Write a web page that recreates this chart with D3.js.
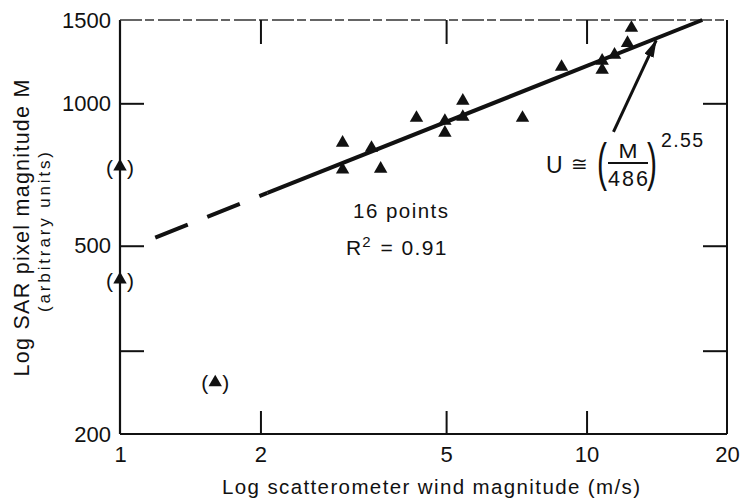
<!DOCTYPE html>
<html><head><meta charset="utf-8">
<script src="https://cdn.jsdelivr.net/npm/d3@7"></script>
<style>
body{margin:0;background:#fff}
svg{display:block;background:#fff}
text{font-family:"Liberation Sans",Arial,Helvetica,sans-serif;fill:#111}
</style>
</head><body>
<svg id="c" width="742" height="502"></svg>
<script>
// ---- data ----
const windU = [3.0, 3.0, 3.46, 3.62, 4.32, 4.97, 4.97, 5.43, 5.43, 7.29, 8.84, 10.8, 10.8, 11.48, 12.24, 12.48];
const sarM  = [825, 724, 805, 727, 931, 918, 866, 1012, 936, 931, 1194, 1230, 1176, 1266, 1341, 1443];
const outlierU = [1, 1, 1.6];
const outlierM = [735, 424, 257];
const fitCoef = 486;
const fitExp = 2.55;
const fitDashedU = [1.19, 2.07];
const arrowTailU = 11.42, arrowTailM = 870, arrowHeadU = 14.1;
const xTickLabels = [1, 2, 5, 10, 20];
const xInnerTicks = [2, 5, 10];
const yTickLabels = [200, 500, 1000, 1500];
const yInnerTicks = [300, 500, 1000];
const xTitle = "Log scatterometer wind magnitude (m/s)";
const yTitle1 = "Log SAR pixel magnitude M";
const yTitle2 = "(arbitrary units)";

// ---- scales ----
const svg = d3.select("#c");
const L = 120, R = 727, T = 20, B = 434;
const x = d3.scaleLog().domain([1, 20]).range([L, R]);
const y = d3.scaleLog().domain([200, 1500]).range([B, T]);
const fitM = u => fitCoef * Math.pow(u, 1 / fitExp);

// ---- frame ----
svg.append("line").attr("x1", L).attr("x2", L).attr("y1", T).attr("y2", B)
  .attr("stroke", "#111").attr("stroke-width", 2.2);
svg.append("line").attr("x1", L).attr("x2", R).attr("y1", B).attr("y2", B)
  .attr("stroke", "#111").attr("stroke-width", 2);
svg.append("line").attr("x1", R).attr("x2", R).attr("y1", T).attr("y2", B)
  .attr("stroke", "#111").attr("stroke-width", 2);
svg.append("line").attr("x1", L).attr("x2", R).attr("y1", T).attr("y2", T)
  .attr("stroke", "#333").attr("stroke-width", 1.3).attr("stroke-dasharray", "22,3,9,4");

function styleTicks(g) {
  g.select(".domain").remove();
  g.selectAll("line").attr("stroke", "#111").attr("stroke-width", 2);
}
// inner ticks
svg.append("g").attr("transform", `translate(${L},0)`)
  .call(d3.axisLeft(y).tickValues(yInnerTicks).tickSize(-24).tickFormat(() => "")).call(styleTicks);
svg.append("g").attr("transform", `translate(${R},0)`)
  .call(d3.axisRight(y).tickValues(yInnerTicks).tickSize(-24).tickFormat(() => "")).call(styleTicks);
svg.append("g").attr("transform", `translate(0,${B})`)
  .call(d3.axisBottom(x).tickValues(xInnerTicks).tickSize(-23).tickFormat(() => "")).call(styleTicks);
svg.append("g").attr("transform", `translate(0,${T})`)
  .call(d3.axisTop(x).tickValues(xInnerTicks).tickSize(-24).tickFormat(() => "")).call(styleTicks);

// tick labels
function styleLabels(g) {
  g.select(".domain").remove();
  g.selectAll("line").remove();
  g.attr("font-family", null).attr("font-size", null);
  g.selectAll("text").style("font-size", "22px").attr("fill", "#111");
}
svg.append("g").attr("transform", `translate(${L},0)`)
  .call(d3.axisLeft(y).tickValues(yTickLabels).tickSize(0).tickPadding(9).tickFormat(d3.format("d")))
  .call(styleLabels);
svg.append("g").attr("transform", `translate(0,${B})`)
  .call(d3.axisBottom(x).tickValues(xTickLabels).tickSize(0).tickPadding(12).tickFormat(d3.format("d")))
  .call(styleLabels);

// axis titles
svg.append("text").attr("x", 222).attr("y", 494).style("font-size", "20.5px")
  .attr("textLength", 418).attr("lengthAdjust", "spacing").text(xTitle);
svg.append("text").attr("transform", "translate(29,228) rotate(-90)").attr("text-anchor", "middle")
  .style("font-size", "21.5px").attr("textLength", 297).attr("lengthAdjust", "spacing").text(yTitle1);
svg.append("text").attr("transform", "translate(50,232) rotate(-90)").attr("text-anchor", "middle")
  .style("font-size", "17px").attr("textLength", 160).attr("lengthAdjust", "spacing").text(yTitle2);

// ---- fitted line ----
const line = d3.line().x(d => x(d)).y(d => y(fitM(d)));
const uTop = Math.pow(1500 / fitCoef, fitExp);
svg.append("path").datum(fitDashedU).attr("d", line)
  .attr("fill", "none").attr("stroke", "#111").attr("stroke-width", 4)
  .attr("stroke-dasharray", "35,21");
svg.append("path").datum([fitDashedU[1], uTop]).attr("d", line)
  .attr("fill", "none").attr("stroke", "#111").attr("stroke-width", 4);

// ---- points ----
const tri = d3.symbol().type(d3.symbolTriangle).size(78);
const pts = windU.map((u, i) => ({u, m: sarM[i]}));
svg.append("g").selectAll("path").data(pts).join("path")
  .attr("d", tri).attr("transform", d => `translate(${x(d.u)},${y(d.m)})`).attr("fill", "#111");

const outs = outlierU.map((u, i) => ({u, m: outlierM[i]}));
const og = svg.append("g").selectAll("g").data(outs).join("g")
  .attr("transform", d => `translate(${x(d.u)},${y(d.m)})`);
og.append("path").attr("d", tri).attr("fill", "#111");
og.append("text").attr("x", -14).attr("y", 8).style("font-size", "21px").text("(");
og.append("text").attr("x", 7).attr("y", 8).style("font-size", "21px").text(")");

// ---- R² annotation ----
svg.append("text").attr("x", 353).attr("y", 218).style("font-size", "20.5px")
  .attr("textLength", 95).attr("lengthAdjust", "spacing").text("16 points");
const r2 = svg.append("text").attr("x", 346).attr("y", 255).style("font-size", "21px");
r2.append("tspan").text("R");
r2.append("tspan").attr("dy", -8).attr("dx", 1).style("font-size", "15px").text("2");
r2.append("tspan").attr("dy", 8).attr("dx", 10).attr("textLength", 66).attr("lengthAdjust", "spacing").text("= 0.91");

// ---- arrow + formula ----
const defs = svg.append("defs");
defs.append("marker").attr("id", "ah").attr("markerUnits", "userSpaceOnUse")
  .attr("markerWidth", 18).attr("markerHeight", 10).attr("refX", 17).attr("refY", 5)
  .attr("orient", "auto").append("path").attr("d", "M0,0L18,5L0,10Z").attr("fill", "#111");
svg.append("line")
  .attr("x1", x(arrowTailU)).attr("y1", y(arrowTailM))
  .attr("x2", x(arrowHeadU)).attr("y2", y(fitM(arrowHeadU)) + 2)
  .attr("stroke", "#111").attr("stroke-width", 3).attr("marker-end", "url(#ah)");

svg.append("text").attr("x", 546).attr("y", 173).style("font-size", "23px").text("U");
svg.append("text").attr("x", 571).attr("y", 171).style("font-size", "20px")
  .style("font-family", "'DejaVu Sans',sans-serif").text("≅");
svg.append("text").attr("transform", "translate(597,180) scale(1,1.7)").style("font-size", "30px").text("(");
svg.append("text").attr("transform", "translate(647,180) scale(1,1.7)").style("font-size", "30px").text(")");
svg.append("text").attr("x", 628).attr("y", 158).attr("text-anchor", "middle").style("font-size", "21px")
  .attr("textLength", 19).attr("lengthAdjust", "spacingAndGlyphs").text("M");
svg.append("line").attr("x1", 608).attr("x2", 648).attr("y1", 163).attr("y2", 163)
  .attr("stroke", "#111").attr("stroke-width", 2);
svg.append("text").attr("x", 608).attr("y", 186).style("font-size", "21.5px")
  .attr("textLength", 40).attr("lengthAdjust", "spacing").text("486");
svg.append("text").attr("x", 661).attr("y", 147).style("font-size", "19.5px")
  .attr("textLength", 42).attr("lengthAdjust", "spacing").text("2.55");
</script>
</body></html>
